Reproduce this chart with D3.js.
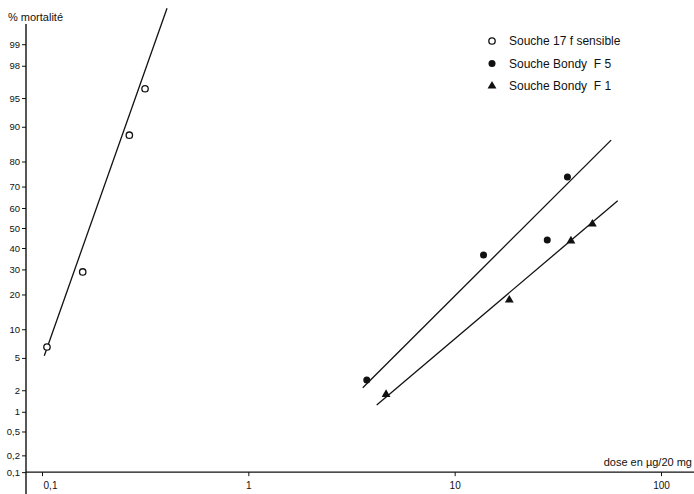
<!DOCTYPE html>
<html>
<head>
<meta charset="utf-8">
<script src="https://cdn.jsdelivr.net/npm/d3@7"></script>
<style>
  html, body { margin: 0; padding: 0; background: #fff; }
  svg { display: block; }
  text { font-family: "Liberation Sans", Arial, sans-serif; fill: #111; }
</style>
</head>
<body>
<svg id="chart" width="694" height="494"></svg>
<script>
// ---------- data ----------
const seriesNames = ["Souche 17 f sensible", "Souche Bondy  F 5", "Souche Bondy  F 1"];
const seriesSymbols = ["open", "filled", "triangle"];

// points: dose (µg/20 mg), % mortalité
const s17fDose = [0.1057, 0.1575, 0.265, 0.3158];
const s17fMort = [6.6, 28.9, 88.0, 96.1];
const f5Dose = [3.75, 13.8, 28.1, 35.2];
const f5Mort = [2.72, 36.6, 44.0, 74.1];
const f1Dose = [4.65, 18.4, 36.6, 46.5];
const f1Mort = [1.76, 18.1, 43.5, 52.0];

// fitted regression lines (end points): dose, %
const s17fLineDose = [0.1026, 0.4036];
const s17fLineMort = [5.3, 99.73];
const f5LineDose = [3.585, 57.3];
const f5LineMort = [2.16, 86.7];
const f1LineDose = [4.19, 61.7];
const f1LineMort = [1.25, 63.5];

const yTickValues = [99, 98, 95, 90, 80, 70, 60, 50, 40, 30, 20, 10, 5, 2, 1, 0.5, 0.2, 0.1];
const yTickLabels = ["99", "98", "95", "90", "80", "70", "60", "50", "40", "30", "20", "10", "5", "2", "1", "0,5", "0,2", "0,1"];
const xTickValues = [0.1, 1, 10, 100];
const xTickLabels = ["0,1", "1", "10", "100"];

// ---------- probit transform (inverse normal CDF, Acklam) ----------
function probit(p) {
  const a = [-3.969683028665376e+01, 2.209460984245205e+02, -2.759285104469687e+02, 1.383577518672690e+02, -3.066479806614716e+01, 2.506628277459239e+00];
  const b = [-5.447609879822406e+01, 1.615858368580409e+02, -1.556989798598866e+02, 6.680131188771972e+01, -1.328068155288572e+01];
  const c = [-7.784894002430293e-03, -3.223964580411365e-01, -2.400758277161838e+00, -2.549732953214801e+00, 4.374664141464968e+00, 2.938163982698783e+00];
  const d = [7.784695709041462e-03, 3.224671290700398e-01, 2.445134137142996e+00, 3.754408661907416e+00];
  const plow = 0.02425, phigh = 1 - plow;
  let q, r;
  if (p < plow) {
    q = Math.sqrt(-2 * Math.log(p));
    return (((((c[0]*q + c[1])*q + c[2])*q + c[3])*q + c[4])*q + c[5]) / ((((d[0]*q + d[1])*q + d[2])*q + d[3])*q + 1);
  } else if (p <= phigh) {
    q = p - 0.5; r = q * q;
    return (((((a[0]*r + a[1])*r + a[2])*r + a[3])*r + a[4])*r + a[5]) * q / (((((b[0]*r + b[1])*r + b[2])*r + b[3])*r + b[4])*r + 1);
  } else {
    q = Math.sqrt(-2 * Math.log(1 - p));
    return -(((((c[0]*q + c[1])*q + c[2])*q + c[3])*q + c[4])*q + c[5]) / ((((d[0]*q + d[1])*q + d[2])*q + d[3])*q + 1);
  }
}

// ---------- scales ----------
const svg = d3.select("#chart");
const x = d3.scaleLog().domain([0.1, 100]).range([42, 661]);
const yz = d3.scaleLinear().domain([0, 1]).range([228, 149]);
const y = pct => yz(probit(pct / 100));

const axisX = 26;
const axisY = y(0.1);

// ---------- axes ----------
const yAxis = d3.axisLeft(yz)
  .tickValues(yTickValues.map(p => probit(p / 100)))
  .tickFormat((z, i) => yTickLabels[i])
  .tickSize(4).tickPadding(2);
const gy = svg.append("g").attr("transform", `translate(${axisX},0)`).call(yAxis);
gy.select(".domain").remove();
gy.selectAll(".tick line").attr("stroke", "#111").attr("stroke-width", 1);
gy.selectAll(".tick text").attr("font-size", 9.5).attr("font-family", "Liberation Sans, Arial, sans-serif").attr("fill", "#111");

const xAxis = d3.axisBottom(x)
  .tickValues(xTickValues)
  .tickFormat((v, i) => xTickLabels[i])
  .tickSize(4).tickPadding(6);
const gx = svg.append("g").attr("transform", `translate(0,${axisY})`).call(xAxis);
gx.select(".domain").remove();
gx.selectAll(".tick line").attr("stroke", "#111").attr("stroke-width", 1);
gx.selectAll(".tick text").attr("font-size", 10).attr("font-family", "Liberation Sans, Arial, sans-serif").attr("fill", "#111")
  .attr("dx", (v, i) => i === 0 ? 8 : 0);

// axis lines
svg.append("line").attr("x1", axisX).attr("x2", axisX).attr("y1", 24).attr("y2", 494)
  .attr("stroke", "#111").attr("stroke-width", 1.4);
svg.append("line").attr("x1", axisX).attr("x2", 694).attr("y1", axisY).attr("y2", axisY)
  .attr("stroke", "#111").attr("stroke-width", 1.2);

// axis titles
svg.append("text").attr("x", 8).attr("y", 21).attr("font-size", 11).text("% mortalité");
svg.append("text").attr("x", 692).attr("y", 466).attr("text-anchor", "end").attr("font-size", 11).text("dose en µg/20 mg");

// ---------- regression lines ----------
const lines = [
  [s17fLineDose, s17fLineMort],
  [f5LineDose, f5LineMort],
  [f1LineDose, f1LineMort]
];
const lineGen = d3.line().x(d => x(d[0])).y(d => y(d[1]));
lines.forEach(([ds, ms]) => {
  svg.append("path")
    .attr("d", lineGen(ds.map((dv, i) => [dv, ms[i]])))
    .attr("fill", "none").attr("stroke", "#111").attr("stroke-width", 1.3);
});

// ---------- points ----------
function drawMarker(g, kind, cx, cy) {
  if (kind === "open") {
    g.append("circle").attr("cx", cx).attr("cy", cy).attr("r", 3.2)
      .attr("fill", "#fff").attr("stroke", "#111").attr("stroke-width", 1.3);
  } else if (kind === "filled") {
    g.append("circle").attr("cx", cx).attr("cy", cy).attr("r", 3.5).attr("fill", "#111");
  } else {
    g.append("path").attr("d", d3.symbol(d3.symbolTriangle, 34)())
      .attr("transform", `translate(${cx},${cy})`).attr("fill", "#111");
  }
}
const pts = [
  [s17fDose, s17fMort, "open"],
  [f5Dose, f5Mort, "filled"],
  [f1Dose, f1Mort, "triangle"]
];
const gp = svg.append("g");
pts.forEach(([ds, ms, kind]) => {
  ds.forEach((dv, i) => drawMarker(gp, kind, x(dv), y(ms[i])));
});

// ---------- legend ----------
const lg = svg.append("g");
seriesNames.forEach((name, i) => {
  const cy = 41 + i * 22.5;
  drawMarker(lg, seriesSymbols[i], 492, cy);
  lg.append("text").attr("x", 509).attr("y", cy + 4).attr("font-size", 12)
    .attr("xml:space", "preserve").style("white-space", "pre").text(name);
});
</script>
</body>
</html>
